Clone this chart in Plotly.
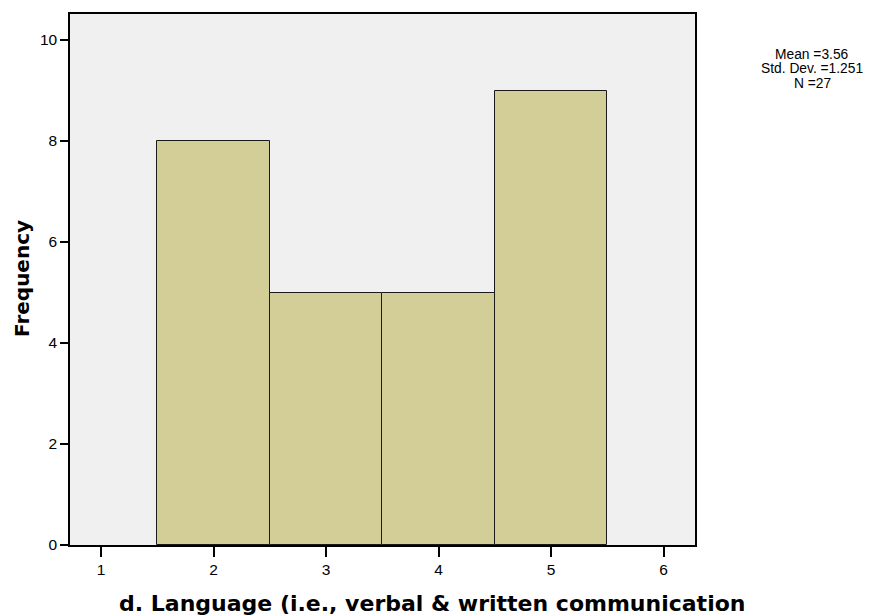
import plotly.graph_objects as go

categories = [2, 3, 4, 5]
frequency = [8, 5, 5, 9]
x_ticks = [1, 2, 3, 4, 5, 6]
y_ticks = [0, 2, 4, 6, 8, 10]
stats_lines = ["Mean =3.56", "Std. Dev. =1.251", "N =27"]
x_title = "d. Language (i.e., verbal & written communication"
y_title = "Frequency"

fig = go.Figure()
fig.add_trace(go.Bar(
    x=categories, y=frequency, width=1,
    marker=dict(color="#d3ce97", line=dict(color="#1a1a1a", width=1)),
    showlegend=False, hoverinfo="skip",
))

font = "Liberation Sans, Arial, sans-serif"
title_font = "DejaVu Sans, sans-serif"

L, R, T, B = 70, 695, 14, 545
W, H = 869, 616
PW, PH = R - L, B - T


def px(x):
    return (x - L) / PW


def py(y):
    return (B - y) / PH


annotations = []
for i, line in enumerate(stats_lines):
    annotations.append(dict(
        xref="paper", yref="paper", x=px(812), y=py(54.5 + 14.5 * i),
        xanchor="center", yanchor="middle", text=line, showarrow=False,
        font=dict(size=13.8, family=font, color="black"),
    ))
annotations.append(dict(
    xref="paper", yref="paper", x=px(117), y=py(603), xanchor="left", yanchor="middle",
    text="<b>" + x_title + "</b>", showarrow=False,
    font=dict(size=22, family=title_font, color="black"),
))
annotations.append(dict(
    xref="paper", yref="paper", x=px(22), y=py(279), xanchor="center", yanchor="middle",
    text="<b>" + y_title + "</b>", showarrow=False, textangle=-90,
    font=dict(size=20, family=title_font, color="black"),
))

fig.update_layout(
    width=W, height=H,
    margin=dict(l=L, r=W - R, t=T, b=H - B, autoexpand=False),
    paper_bgcolor="white", plot_bgcolor="#f0f0f0",
    font=dict(family=font, size=15.5, color="black"),
    bargap=0,
    xaxis=dict(
        range=[0.724, 6.28], tickvals=x_ticks, ticks="outside", ticklen=10,
        tickwidth=2, tickcolor="black", showline=True, linecolor="black",
        linewidth=1.5, mirror=True, showgrid=False, zeroline=False, automargin=False,
    ),
    yaxis=dict(
        range=[0, 10.515], tickvals=y_ticks, ticks="outside", ticklen=8,
        tickwidth=2, tickcolor="black", showline=True, linecolor="black",
        linewidth=1.5, mirror=True, showgrid=False, zeroline=False, automargin=False,
    ),
    annotations=annotations,
)

fig.write_html("out.html", config={"displayModeBar": False},
               post_script="document.body.style.margin='0px';")
